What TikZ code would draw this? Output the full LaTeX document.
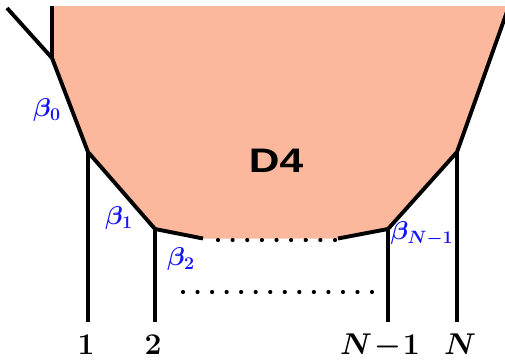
\documentclass[tikz,border=0pt]{standalone}
\usepackage{fontspec}
\usepackage{amsmath}
\newfontfamily\dfont{Liberation Sans}
\definecolor{salmon}{RGB}{251,184,157}
\definecolor{lblue}{RGB}{20,20,245}
\newcommand{\blbl}[1]{\scalebox{1.24}{\fontsize{20.74}{24}\selectfont\boldmath$#1$}}
\newcommand{\nlbl}[1]{\scalebox{1.45}{\fontsize{20.74}{24}\selectfont\boldmath$#1$}}
\begin{document}
\begin{tikzpicture}[x=1pt,y=-1pt,
  edge/.style={line width=3.9pt,line cap=butt,line join=miter},
  blab/.style={text=lblue,inner sep=0pt},
  nlab/.style={inner sep=0pt,anchor=base}]
\useasboundingbox (0,0) rectangle (505,359);
\clip (0,0) rectangle (505,359);
\coordinate (tl) at (52,6);
\coordinate (a) at (52,58);
\coordinate (b) at (88,152);
\coordinate (c) at (155,229);
\coordinate (d) at (203,238.5);
\coordinate (e) at (338,238.5);
\coordinate (f) at (388,229);
\coordinate (g) at (457,152);
\coordinate (tr) at (509,6);
\coordinate (ext) at (7,8);
\coordinate (b1) at (88,322);
\coordinate (c1) at (155,322);
\coordinate (f1) at (388,322);
\coordinate (g1) at (457,322);
\fill[salmon] (tl) -- (a) -- (b) -- (c) -- (d) -- (e) -- (f) -- (g) -- (tr) -- cycle;
\draw[edge] (tl) -- (a) -- (b) -- (c) -- (d);
\draw[edge] (e) -- (f) -- (g) -- (tr);
\draw[edge] (ext) -- (a);
\draw[edge] (b) -- (b1);
\draw[edge] (c) -- (c1);
\draw[edge] (f) -- (f1);
\draw[edge] (g) -- (g1);
\foreach \i in {0,...,8} \fill (218+\i*14.625,240) circle (2.1);
\foreach \i in {0,...,13} \fill (183+\i*14.54,292) circle (2.1);
\node[font=\dfont\bfseries\fontsize{34}{40}\selectfont,inner sep=0pt] (D) at (276,160.5) {\scalebox{1.25}[1]{D4}};
\node[blab] (l0) at (47,110) {\blbl{\beta_0}};
\node[blab] (l1) at (119,218) {\blbl{\beta_1}};
\node[blab] (l2) at (181,259) {\blbl{\beta_2}};
\node[blab] (l3) at (422,234) {\blbl{\beta_{N-1}}};
\node[nlab] (n1) at (86,354) {\nlbl{1}};
\node[nlab] (n2) at (153,354) {\nlbl{2}};
\node[nlab] (n3) at (380,354) {\nlbl{N\!-\!1}};
\node[nlab] (n4) at (460,354) {\nlbl{N}};
\end{tikzpicture}
\end{document}
